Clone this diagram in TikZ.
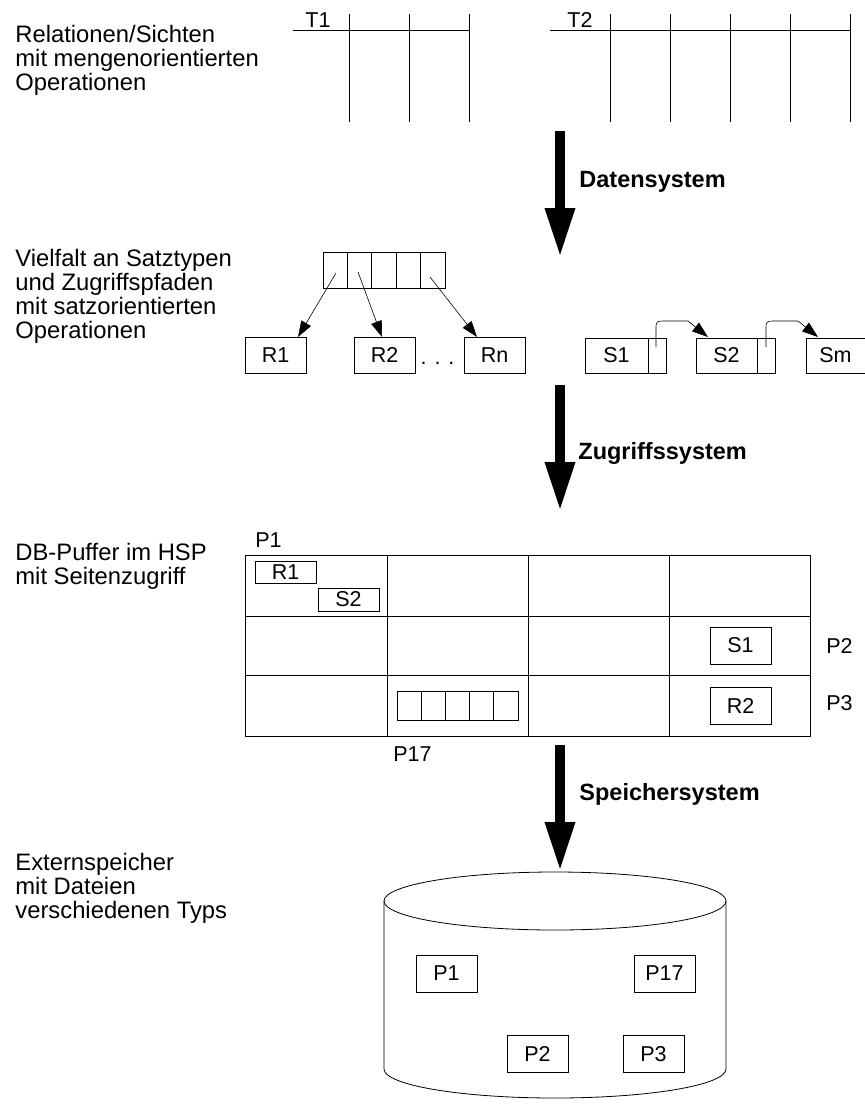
\documentclass[tikz,border=0pt]{standalone}
\usepackage{fontspec}
\setmainfont{Liberation Sans}
\usetikzlibrary{arrows.meta}
\begin{document}
\begin{tikzpicture}[x=1pt,y=-1pt,line width=0.8pt,
  lbl/.style={font=\fontsize{23.8}{24}\selectfont,align=left,inner sep=0,anchor=base west},
  sys/.style={font=\fontsize{23.5}{25}\selectfont\bfseries,inner sep=0,anchor=base west},
  rec/.style={draw,minimum width=61pt,minimum height=36pt,inner sep=0,font=\fontsize{21.5}{22}\selectfont},
  cell/.style={draw,minimum width=24.4pt,minimum height=36pt,inner sep=0},
  pcell/.style={draw,minimum width=18pt,minimum height=35pt,inner sep=0},
  sm/.style={font=\fontsize{21.5}{22}\selectfont,inner sep=0},
  ptr/.style={-{Triangle[length=16pt,width=11pt]},line width=0.6pt},
  big/.style={line width=9.5pt,-{Triangle[length=49pt,width=28pt]}}
]
\useasboundingbox (0,0) rectangle (865,1104);

% left texts (placed at the baseline of their last line)
\node[lbl] (t1) at (15,90) {Relationen/Sichten\\mit mengenorientierten\\Operationen};
\node[lbl] (t2) at (15,338) {Vielfalt an Satztypen\\und Zugriffspfaden\\mit satzorientierten\\Operationen};
\node[lbl] (t3) at (15,584) {DB-Puffer im HSP\\mit Seitenzugriff};
\node[lbl] (t4) at (15,918) {Externspeicher\\mit Dateien\\verschiedenen Typs};

% tables T1, T2
\draw (293,30) -- (469,30);
\foreach \x in {349,409,469} \draw (\x,14) -- (\x,122);
\node[sm] (T1) at (318,20) {T1};
\draw (550,30) -- (850,30);
\foreach \x in {610,670,730,790,850} \draw (\x,14) -- (\x,122);
\node[sm] (T2) at (580,20) {T2};

% big arrows
\coordinate (a1s) at (560,131); \coordinate (a1e) at (560,257);
\draw[big] (a1s) -- (a1e);
\node[sys] (d1) at (579,187) {Datensystem};
\coordinate (a2s) at (560,385); \coordinate (a2e) at (560,511);
\draw[big] (a2s) -- (a2e);
\node[sys] (d2) at (578,459) {Zugriffssystem};
\coordinate (a3s) at (560,745); \coordinate (a3e) at (560,871);
\draw[big] (a3s) -- (a3e);
\node[sys] (d3) at (579,800) {Speichersystem};

% index array
\foreach \i/\x in {1/335.2,2/359.6,3/384,4/408.4,5/432.8}
  \node[cell] (c\i) at (\x,270) {};
\node[rec] (R1) at (275.5,355) {R1};
\node[rec] (R2) at (384.5,355) {R2};
\node[rec] (Rn) at (494.5,355) {Rn};
\node[sm,anchor=base] (dots) at (437.5,364) {. . .};
\coordinate (p1) at (336,273); \coordinate (q1) at (298,337);
\coordinate (p2) at (358,272); \coordinate (q2) at (382,337);
\coordinate (p3) at (430,277); \coordinate (q3) at (477,337);
\draw[ptr] (p1) -- (q1);
\draw[ptr] (p2) -- (q2);
\draw[ptr] (p3) -- (q3);

% S chain
\node[rec,minimum width=63pt,minimum height=35pt] (S1) at (616.5,355.5) {S1};
\node[pcell,anchor=west] (S1p) at (S1.east) {};
\node[rec,minimum width=61pt,minimum height=35pt] (S2) at (726.5,355.5) {S2};
\node[pcell,anchor=west] (S2p) at (S2.east) {};
\node[rec,minimum width=59pt,minimum height=35pt] (Sm) at (835.5,355.5) {Sm};
\coordinate (s1a) at (656,347); \coordinate (s1b) at (708,337);
\coordinate (s2a) at (766,347); \coordinate (s2b) at (818,337);
\draw[ptr] (s1a) -- (656,330) .. controls (656,321) .. (666,321) -- (688,321) -- (s1b);
\draw[ptr] (s2a) -- (766,330) .. controls (766,321) .. (776,321) -- (798,321) -- (s2b);

% buffer grid
\draw (245,555) rectangle (810,736);
\foreach \y in {616,675} \draw (245,\y) -- (810,\y);
\foreach \x in {387,528,669} \draw (\x,555) -- (\x,736);
\node[sm,anchor=west] (P1l) at (255,540) {P1};
\node[rec,minimum height=22pt] (bR1) at (285.5,572) {R1};
\node[rec,minimum height=23pt] (bS2) at (348.5,599.5) {S2};
\node[rec,minimum height=37pt] (bS1) at (740.5,645.5) {S1};
\node[rec,minimum height=37pt] (bR2) at (740.5,705.5) {R2};
\node[sm,anchor=west] (P2l) at (826,646) {P2};
\node[sm,anchor=west] (P3l) at (826,703) {P3};
\node[sm,anchor=west] (P17l) at (393,754) {P17};
\foreach \i in {1,...,5}
  \node[cell,minimum width=24.2pt,minimum height=29pt] (b\i) at (397+24.2*\i-12.1,705.5) {};

% cylinder
\draw (555,901) ellipse[x radius=171pt,y radius=29pt];
\draw (384,901) -- (384,1069) arc[start angle=180,end angle=360,x radius=171pt,y radius=29pt] -- (726,901);
\node[rec,minimum height=37pt] (cP1) at (446.5,973.5) {P1};
\node[rec,minimum height=37pt] (cP17) at (664.5,973.5) {P17};
\node[rec,minimum height=37pt] (cP2) at (537.5,1054) {P2};
\node[rec,minimum height=37pt] (cP3) at (653.5,1054) {P3};
\end{tikzpicture}
\end{document}
